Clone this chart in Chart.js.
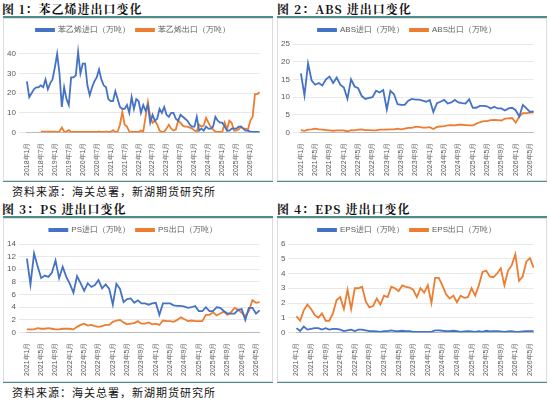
<!DOCTYPE html>
<html><head><meta charset="utf-8">
<script src="https://cdn.jsdelivr.net/npm/chart.js@4/dist/chart.umd.min.js"></script>
<style>
body{margin:0;background:#fff;width:550px;height:400px;position:relative;overflow:hidden;font-family:"Noto Sans CJK SC",sans-serif}
.t{position:absolute;font-size:12px;font-weight:bold;color:#111;font-family:"Noto Serif CJK SC","Noto Sans CJK SC",serif;letter-spacing:1px}
.hl{position:absolute;height:2px;background:#4e8c8c}
.f{position:absolute;font-size:11px;color:#111;font-family:"Noto Sans CJK SC";letter-spacing:1px}
.box{position:absolute;border:1px solid #ddd}
canvas{position:absolute}
</style></head><body>
<div class="t" style="left:2px;top:0px">图 1：苯乙烯进出口变化</div>
<div class="t" style="left:277px;top:0px">图 2：ABS 进出口变化</div>
<div class="t" style="left:2px;top:200px">图 3：PS 进出口变化</div>
<div class="t" style="left:277px;top:200px">图 4：EPS 进出口变化</div>
<div class="hl" style="left:3px;top:16px;width:270px"></div>
<div class="hl" style="left:277px;top:16px;width:270px"></div>
<div class="hl" style="left:3px;top:180px;width:270px"></div>
<div class="hl" style="left:277px;top:180px;width:270px"></div>
<div class="hl" style="left:3px;top:216px;width:270px"></div>
<div class="hl" style="left:277px;top:216px;width:270px"></div>
<div class="hl" style="left:3px;top:381px;width:270px"></div>
<div class="hl" style="left:277px;top:381px;width:270px"></div>
<div class="box" style="left:3px;top:18px;width:268px;height:161px"></div>
<div class="box" style="left:277px;top:18px;width:268px;height:161px"></div>
<div class="box" style="left:3px;top:218px;width:268px;height:162px"></div>
<div class="box" style="left:277px;top:218px;width:268px;height:162px"></div>
<div class="f" style="left:12px;top:183px">资料来源：海关总署，新湖期货研究所</div>
<div class="f" style="left:12px;top:384px">资料来源：海关总署，新湖期货研究所</div>
<canvas id="c1" style="left:4px;top:20px"></canvas>
<canvas id="c2" style="left:278px;top:20px"></canvas>
<canvas id="c3" style="left:4px;top:220px"></canvas>
<canvas id="c4" style="left:278px;top:220px"></canvas>
<script>
function months(y0,m0,n){const a=[];let y=y0,m=m0;for(let i=0;i<n;i++){a.push(y+'年'+m+'月');m++;if(m>12){m=1;y++;}}return a;}
const labels1=months(2018,1,101);
const labels2=months(2021,1,66);
const styreneImport=[26,18,20,22,23,23,24,23,27,22,25,27,33,40,30,13,23,17,14,28,28,29,41,30,35,35,24,19,23,26,28,32,27,24,23,17,16,16,21,17,13,12,12,14,10,18,12,17,16,10,14,11,14,5,9,6,7,12,10,13,9,8,10,10,7,6,9,8,7,6,4,3,3,8,1,2,1,3,2,2,3,8,6,5,5,3,1,1,2,2,2,3,3,2,1,1,0.5,0.3,0.3,0.3,0.2];
const styreneExport=[null,null,null,null,null,null,0.5,0.5,0.5,0.5,0.5,0.5,0.5,0.3,0.5,2.5,0.5,0.5,1.2,0.3,0.3,0.3,0.3,0.3,0.3,0.3,0.3,0.3,0.3,0.3,0.3,0.5,0.3,0.3,0.5,0.3,0.3,1.2,0.3,0.5,4,10.5,4,3,0.5,0.3,0.3,0.3,0.3,1,0.5,8,15.5,8,5,6,4,1,0.3,0.5,2,4,2,1,1.5,6,5,3.5,3,3,2.5,2,1,0.5,4,3,3.5,7.5,5,3,1.5,0.5,0.3,0.3,0.3,5,1.5,6,5,1,1,1.5,3,2,2,1.5,6,8,19.5,19.5,20.5];
const absImport=[16.7,10.5,19.5,14.7,13.5,14,13.3,15,15.8,14,15.5,13.5,12.7,9.5,15,13,12.5,10.3,9.5,9.8,10,11.8,11.3,12,6.5,11.8,10.8,8,7.8,7.8,9,9.5,9.3,9.3,9,8.7,9.2,5.8,8.3,8.7,9.2,8.2,8.5,9.2,8.5,8.3,8.2,9.4,7,7,7.5,7.5,7.4,6.8,7.3,6.8,6.8,6.2,6.8,7,6.3,4.5,7.8,6.8,5.8,6];
const absExport=[0.7,0.5,0.8,0.9,1.1,0.9,0.8,0.7,0.6,0.5,0.6,0.6,0.6,0.3,0.7,0.6,0.8,0.9,0.7,0.7,0.6,0.6,0.8,0.8,0.8,0.9,0.9,1.1,0.9,1.1,1.3,1.3,1.6,1.6,1.4,1.4,1.5,1,1.6,1.7,1.8,2,2.1,2,2.2,2.2,2.1,2,2,2.5,2.9,3.2,3.2,3.5,3.6,3.5,3.4,3.9,4,4.1,2.8,4.5,5.5,5.5,5.6,5.7];
const psImport=[11.7,7.6,12.5,10.5,8.6,9,8.8,9.5,11.4,8.6,10.4,8.8,7.7,6.3,8.9,7.8,6.6,7.8,7.2,7.5,8.3,7,7.6,6.9,4.4,7.7,6.9,4.8,5.3,5.4,4.7,5.1,4.6,4.6,4.4,4.6,4.7,2.8,4.6,4.6,4.6,4.3,4.2,4.2,4.1,3.9,4,4.2,3.4,3.4,4,3.4,3.4,4,3.9,3.4,3,3,3,3.6,3.7,2,3.9,3.9,3,3.5];
const psExport=[0.5,0.5,0.5,0.7,0.6,0.6,0.7,0.6,0.5,0.5,0.6,0.6,0.6,0.5,0.9,1.2,1.4,1.1,1.2,1,0.9,1,1.2,1.2,1.7,1.9,2,1.6,1.3,1.4,1.5,1.8,1.4,1.4,1.6,1.3,1.4,1.2,1.9,1.8,1.8,1.7,2,2.4,2.1,1.8,1.9,1.8,1.8,1.8,2.8,2.8,3.2,2.7,3,3.3,2.8,3.2,3.9,3.6,3.1,2.6,3.4,5.1,4.7,4.8];
const epsImport=[0.3,0.1,0.4,0.2,0.25,0.3,0.3,0.2,0.3,0.2,0.25,0.25,0.2,0.1,0.15,0.2,0.1,0.2,0.2,0.15,0.1,0.1,0.08,0.05,0.1,0.1,0.15,0.1,0.1,0.12,0.1,0.1,0.05,0.05,0.05,0.05,0.05,0.05,0.15,0.15,0.12,0.1,0.1,0.12,0.1,0.05,0.08,0.1,0.08,0.05,0.1,0.05,0.12,0.08,0.1,0.1,0.08,0.05,0.08,0.1,0.05,0.05,0.08,0.1,0.1,0.1];
const epsExport=[1.1,0.8,1.5,1.9,1.6,1.2,1,1.3,0.8,0.8,1.3,2.2,2.4,1.6,2.9,1.6,3,3,3.1,2.1,1.7,1.8,2.3,1.9,2.5,2.4,3.1,3,2.8,3.2,3.1,3.05,2.9,2.4,3,2.7,3.2,2,3.7,3.7,3.2,2.6,2.3,2.5,2.05,2.5,2.35,2.4,3,2.5,3.2,4.1,4.2,3.8,3.75,4,4.35,3.2,4.2,4.55,5.3,3.5,3.8,4.8,5.05,4.4];
const BLUE='#4472c4',ORANGE='#ed7d31';
function make(id,w,h,labels,step,names,a,b,max,stepSize){
  const c=document.getElementById(id);c.width=w;c.height=h;c.style.width=w+'px';c.style.height=h+'px';
  new Chart(c,{type:'line',data:{labels,datasets:[
    {label:names[0],data:a,borderColor:BLUE,backgroundColor:BLUE,borderWidth:1.8,pointRadius:0,tension:0},
    {label:names[1],data:b,borderColor:ORANGE,backgroundColor:ORANGE,borderWidth:1.8,pointRadius:0,tension:0}]},
  options:{responsive:false,animation:false,devicePixelRatio:1,layout:{padding:{right:8,top:0}},
   plugins:{legend:{labels:{boxWidth:18,boxHeight:2,font:{size:8},color:'#595959',padding:6}},tooltip:{enabled:false}},
   scales:{x:{grid:{display:false,drawTicks:true},border:{color:'#bbb'},ticks:{autoSkip:false,minRotation:90,maxRotation:90,font:{size:7},color:'#595959',padding:2,
      callback:function(v,i){return i%step===0?labels[i]:'';}}},
     y:{min:0,max:max,ticks:{stepSize,font:{size:8},color:'#595959'},grid:{color:'#e8e8e8'},border:{display:false}}}}});
}
make('c1',266,158,labels1,6,['苯乙烯进口（万吨）','苯乙烯出口（万吨）'],styreneImport,styreneExport,45,5);
make('c2',266,158,labels2,4,['ABS进口（万吨）','ABS出口（万吨）'],absImport,absExport,25,5);
make('c3',266,158,labels2,4,['PS进口（万吨）','PS出口（万吨）'],psImport,psExport,14,2);
make('c4',266,158,labels2,4,['EPS进口（万吨）','EPS出口（万吨）'],epsImport,epsExport,6,1);
</script></body></html>
